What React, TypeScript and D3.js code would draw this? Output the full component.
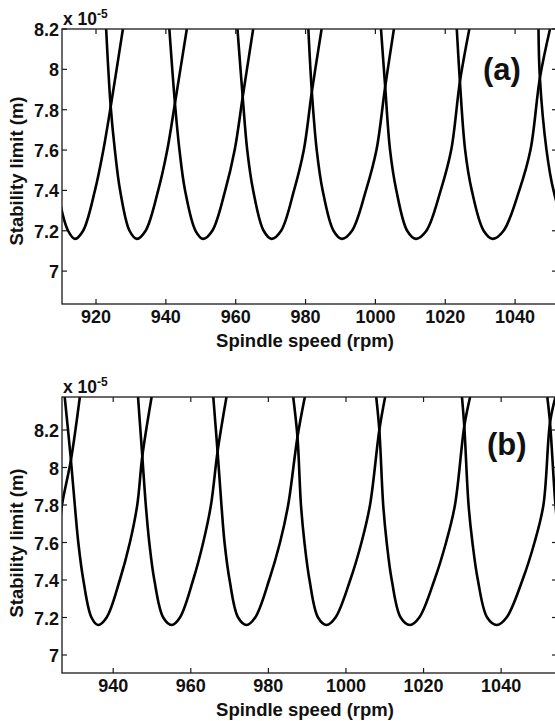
import React from "react";
import * as d3 from "d3";

// ---- Data (stability limit in units of 1e-5 m vs spindle speed in rpm) ----
// Chart (a): stability lobes, each as [rpm, limit] points
const lobeA1: [number, number][] = [[905.0, 8.2], [906.5, 7.8], [907.7, 7.6], [909.0, 7.4], [912.0, 7.2], [914.0, 7.16], [916.3, 7.2], [919.7, 7.4], [922.1, 7.6], [924.2, 7.815], [927.7, 8.2]];
const lobeA2: [number, number][] = [[922.9, 8.2], [924.2, 7.815], [925.4, 7.6], [926.9, 7.4], [929.6, 7.2], [931.7, 7.16], [934.2, 7.2], [937.8, 7.4], [940.4, 7.6], [942.6, 7.832], [946.0, 8.2]];
const lobeA3: [number, number][] = [[941.0, 8.2], [942.6, 7.832], [943.9, 7.6], [945.5, 7.4], [948.5, 7.2], [950.7, 7.16], [953.3, 7.2], [957.0, 7.4], [959.7, 7.6], [962.0, 7.863], [965.0, 8.2]];
const lobeA4: [number, number][] = [[960.5, 8.2], [962.0, 7.863], [963.3, 7.6], [965.0, 7.4], [968.0, 7.2], [970.3, 7.16], [973.0, 7.2], [976.7, 7.4], [979.5, 7.6], [981.8, 7.889], [984.6, 8.2]];
const lobeA5: [number, number][] = [[980.8, 8.2], [981.8, 7.889], [983.2, 7.6], [984.9, 7.4], [988.0, 7.2], [990.4, 7.16], [993.3, 7.2], [997.3, 7.4], [1000.3, 7.6], [1002.8, 7.914], [1005.3, 8.2]];
const lobeA6: [number, number][] = [[1001.6, 8.2], [1002.8, 7.914], [1004.2, 7.6], [1006.0, 7.4], [1009.1, 7.2], [1011.6, 7.16], [1014.6, 7.2], [1018.7, 7.4], [1021.7, 7.6], [1024.2, 7.939], [1026.9, 8.2]];
const lobeA7: [number, number][] = [[1023.3, 8.2], [1024.2, 7.939], [1025.7, 7.6], [1027.6, 7.4], [1031.0, 7.2], [1033.6, 7.16], [1036.7, 7.2], [1041.2, 7.4], [1044.4, 7.6], [1047.1, 7.957], [1050.0, 8.2]];
const lobeA8: [number, number][] = [[1046.7, 8.2], [1047.1, 7.957], [1049.0, 7.6], [1051.0, 7.4], [1054.7, 7.2], [1057.5, 7.16], [1060.5, 7.2]];
const lobesA = [lobeA1, lobeA2, lobeA3, lobeA4, lobeA5, lobeA6, lobeA7, lobeA8];

// Chart (b)
const lobeB0: [number, number][] = [[917.5, 7.16], [920.0, 7.2], [924.0, 7.4], [925.7, 7.6], [926.8, 7.8], [929.1, 8.04], [931.4, 8.376]];
const lobeB1: [number, number][] = [[927.5, 8.376], [929.1, 8.04], [930.1, 7.8], [931.0, 7.6], [932.3, 7.4], [934.4, 7.2], [936.1, 7.16], [938.3, 7.2], [941.7, 7.4], [944.3, 7.6], [946.2, 7.8], [947.5, 8.06], [949.9, 8.376]];
const lobeB2: [number, number][] = [[946.4, 8.376], [947.5, 8.06], [948.4, 7.8], [949.3, 7.6], [950.6, 7.4], [952.9, 7.2], [955.1, 7.16], [957.2, 7.2], [960.6, 7.4], [963.2, 7.6], [965.2, 7.8], [966.9, 8.085], [969.2, 8.376]];
const lobeB3: [number, number][] = [[965.8, 8.376], [966.9, 8.085], [967.9, 7.8], [968.7, 7.6], [970.0, 7.4], [972.2, 7.2], [974.4, 7.16], [976.6, 7.2], [980.2, 7.4], [983.0, 7.6], [985.1, 7.8], [987.5, 8.163], [989.4, 8.376]];
const lobeB4: [number, number][] = [[986.4, 8.376], [987.5, 8.163], [988.4, 7.8], [989.3, 7.6], [990.6, 7.4], [992.8, 7.2], [995.0, 7.16], [997.3, 7.2], [1001.1, 7.4], [1004.0, 7.6], [1006.2, 7.8], [1008.6, 8.2], [1010.1, 8.376]];
const lobeB5: [number, number][] = [[1007.8, 8.376], [1008.6, 8.2], [1009.6, 7.8], [1010.5, 7.6], [1011.8, 7.4], [1014.1, 7.2], [1016.5, 7.16], [1018.9, 7.2], [1022.8, 7.4], [1025.8, 7.6], [1028.1, 7.8], [1030.5, 8.22], [1032.0, 8.376]];
const lobeB6: [number, number][] = [[1029.9, 8.376], [1030.5, 8.22], [1031.6, 7.8], [1032.6, 7.6], [1034.0, 7.4], [1036.4, 7.2], [1038.9, 7.16], [1041.4, 7.2], [1045.5, 7.4], [1048.6, 7.6], [1050.9, 7.8], [1052.6, 8.24], [1054.0, 8.376]];
const lobeB7: [number, number][] = [[1051.9, 8.376], [1052.6, 8.24], [1054.0, 7.8], [1055.0, 7.6], [1056.5, 7.4], [1059.0, 7.2], [1062.0, 7.16]];
const lobesB = [lobeB0, lobeB1, lobeB2, lobeB3, lobeB4, lobeB5, lobeB6, lobeB7];

const xTicksA = [920, 940, 960, 980, 1000, 1020, 1040];
const xTicksB = [940, 960, 980, 1000, 1020, 1040];
const yTicks = [7, 7.2, 7.4, 7.6, 7.8, 8, 8.2];

const FONT = "'Liberation Sans', Arial, Helvetica, sans-serif";

type PanelProps = {
  id: string;
  lobes: [number, number][][];
  xDomain: [number, number];
  yDomain: [number, number];
  xTicks: number[];
  top: number;
  bottom: number;
  label: string;
  labelX: number;
  labelY: number;
  yTitleCenter: number;
};

function Panel(p: PanelProps) {
  const left = 62;
  const right = 557;
  const x = d3.scaleLinear().domain(p.xDomain).range([left, right]);
  const y = d3.scaleLinear().domain(p.yDomain).range([p.bottom, p.top]);
  const line = d3
    .line<[number, number]>()
    .x((d) => x(d[0]))
    .y((d) => y(d[1]))
    .curve(d3.curveCatmullRom.alpha(0.5));
  const tl = 5;
  const ax = "#1a1a1a";
  return (
    <g>
      <defs>
        <clipPath id={p.id}>
          <rect x={left} y={p.top} width={right - left} height={p.bottom - p.top} />
        </clipPath>
      </defs>
      <g clipPath={`url(#${p.id})`}>
        {p.lobes.map((l, i) => (
          <path key={i} d={line(l) || ""} fill="none" stroke="#000" strokeWidth={2.6} strokeLinejoin="round" />
        ))}
      </g>
      <rect x={left} y={p.top} width={right - left} height={p.bottom - p.top} fill="none" stroke={ax} strokeWidth={1.3} />
      {p.xTicks.map((t) => (
        <g key={"x" + t}>
          <line x1={x(t)} x2={x(t)} y1={p.bottom} y2={p.bottom - tl} stroke={ax} strokeWidth={1.2} />
          <line x1={x(t)} x2={x(t)} y1={p.top} y2={p.top + tl} stroke={ax} strokeWidth={1.2} />
          <text x={x(t)} y={p.bottom + 19} textAnchor="middle" fontFamily={FONT} fontWeight="bold" fontSize={18} fill="#111">
            {t}
          </text>
        </g>
      ))}
      {yTicks.map((t) => (
        <g key={"y" + t}>
          <line x1={left} x2={left + tl} y1={y(t)} y2={y(t)} stroke={ax} strokeWidth={1.2} />
          <line x1={right} x2={right - tl} y1={y(t)} y2={y(t)} stroke={ax} strokeWidth={1.2} />
          <text x={59} y={y(t) + 7} textAnchor="end" fontFamily={FONT} fontWeight="bold" fontSize={18} fill="#111">
            {String(t)}
          </text>
        </g>
      ))}
      <text x={63} y={p.top - 4} fontFamily={FONT} fontWeight="bold" fontSize={17.5} fill="#111">
        x 10
        <tspan fontSize={12} dy={-7}>-5</tspan>
      </text>
      <text x={305} y={p.bottom + 43} textAnchor="middle" fontFamily={FONT} fontWeight="bold" fontSize={18.5} fill="#111">
        Spindle speed (rpm)
      </text>
      <text
        transform={`translate(23,${p.yTitleCenter}) rotate(-90)`}
        textAnchor="middle"
        fontFamily={FONT}
        fontWeight="bold"
        fontSize={18.5}
        fill="#111"
      >
        Stability limit (m)
      </text>
      <text x={p.labelX} y={p.labelY} fontFamily={FONT} fontWeight="bold" fontSize={31} fill="#111">
        {p.label}
      </text>
    </g>
  );
}

export default function App() {
  return (
    <svg width={555} height={721} style={{ position: "absolute", left: 0, top: 0, background: "#fff" }}>
      <rect x={0} y={0} width={555} height={721} fill="#fff" />
      <Panel
        id="clipA"
        lobes={lobesA}
        xDomain={[910.26, 1052.0]}
        yDomain={[6.837, 8.2]}
        xTicks={xTicksA}
        top={29}
        bottom={304}
        label="(a)"
        labelX={483}
        labelY={80}
        yTitleCenter={171}
      />
      <Panel
        id="clipB"
        lobes={lobesB}
        xDomain={[926.8, 1054.4]}
        yDomain={[6.904, 8.376]}
        xTicks={xTicksB}
        top={397}
        bottom={673}
        label="(b)"
        labelX={487}
        labelY={455}
        yTitleCenter={543}
      />
    </svg>
  );
}
